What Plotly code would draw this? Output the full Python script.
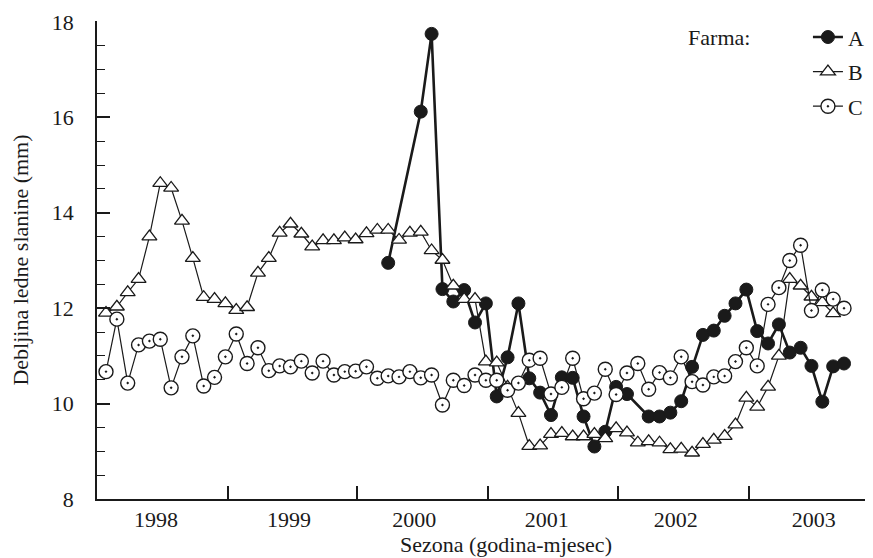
import plotly.graph_objects as go

# ---- data (month index from first season month) ----
months_a = [26, 29, 30, 31, 32, 33, 34, 35, 36, 37, 38, 39, 40, 41, 42, 43, 44, 45, 46, 47, 48,
            50, 51, 52, 53, 54, 55, 56, 57, 58, 59, 60, 61, 62, 63, 64, 65, 66, 67, 68]
farm_a = [12.95, 16.12, 17.75, 12.40, 12.14, 12.38, 11.70, 12.10, 10.15, 10.97, 12.10, 10.53,
          10.23, 9.76, 10.55, 10.54, 9.73, 9.10, 9.41, 10.35, 10.20,
          9.73, 9.73, 9.81, 10.05, 10.77, 11.44, 11.53, 11.84, 12.10, 12.39, 11.52, 11.26,
          11.66, 11.07, 11.17, 10.79, 10.04, 10.78, 10.84]

months_b = list(range(68))
farm_b = [11.90, 12.03, 12.33, 12.61, 13.50, 14.62, 14.52, 13.83, 13.05, 12.23, 12.19, 12.10,
          11.96, 12.02, 12.74, 13.05, 13.58, 13.77, 13.56, 13.29, 13.42, 13.42, 13.48, 13.44,
          13.57, 13.64, 13.64, 13.43, 13.58, 13.60, 13.21, 13.01, 12.47, 12.19, 12.19, 10.88,
          10.86, 10.35, 9.80, 9.11, 9.12, 9.36, 9.38, 9.31, 9.31, 9.36, 9.27, 9.48, 9.39, 9.18,
          9.21, 9.18, 9.04, 9.05, 8.97, 9.15, 9.24, 9.32, 9.56, 10.12, 9.93, 10.35, 11.00,
          12.61, 12.47, 12.24, 12.12, 11.89]

months_c = list(range(69))
farm_c = [10.67, 11.77, 10.43, 11.23, 11.31, 11.35, 10.33, 10.98, 11.42, 10.37, 10.55, 10.98,
          11.46, 10.84, 11.17, 10.69, 10.79, 10.77, 10.89, 10.64, 10.89, 10.60, 10.67, 10.68,
          10.77, 10.53, 10.58, 10.56, 10.67, 10.54, 10.60, 9.97, 10.49, 10.38, 10.60, 10.49,
          10.49, 10.28, 10.43, 10.91, 10.95, 10.20, 10.34, 10.95, 10.10, 10.22, 10.72, 10.19,
          10.64, 10.84, 10.30, 10.65, 10.54, 10.98, 10.46, 10.39, 10.56, 10.58, 10.88, 11.17,
          10.79, 12.08, 12.43, 13.00, 13.32, 11.95, 12.38, 12.19, 12.00]

year_labels = ["1998", "1999", "2000", "2001", "2002", "2003"]
year_label_pos = [4.6, 16.85, 28.4, 40.6, 52.5, 65.2]
year_bounds = [11.2, 23.15, 35.2, 47.2, 59.2]

FONT = "Liberation Serif, Times New Roman, serif"
INK = "#1a1a1a"
NBSP = "\u00a0"

fig = go.Figure()
fig.add_trace(go.Scatter(
    x=months_a, y=farm_a, name="A", mode="lines+markers",
    line=dict(color=INK, width=2.6),
    marker=dict(symbol="circle", size=13, color=INK, line=dict(color=INK, width=1)),
    legendgroup="a"))
fig.add_trace(go.Scatter(
    x=months_b, y=farm_b, name="B", mode="lines+markers",
    line=dict(color=INK, width=1.2),
    marker=dict(symbol="triangle-up", size=13, color="white", line=dict(color=INK, width=1.3)),
    legendgroup="b"))
fig.add_trace(go.Scatter(
    x=months_c, y=farm_c, name="C", mode="lines+markers",
    line=dict(color=INK, width=1.2),
    marker=dict(symbol="circle-dot", size=14, color="white", line=dict(color=INK, width=1.4)),
    legendgroup="c"))

# the page body adds an 8px offset, so the figure is 8px smaller than the window
fig.update_layout(
    width=865, height=550,
    margin=dict(l=89, r=0, t=13, b=59, autoexpand=False),
    paper_bgcolor="white", plot_bgcolor="white",
    font=dict(family=FONT, size=22, color=INK),
    legend=dict(
        x=0.995, y=1.01, xanchor="right", yanchor="top",
        title=dict(text="Farma:" + NBSP * 9, side="left", font=dict(size=22)),
        font=dict(size=22), tracegroupgap=3, bgcolor="rgba(0,0,0,0)",
        itemsizing="trace"),
    annotations=[dict(
        text="Sezona (godina-mjesec)", xref="paper", yref="paper",
        x=0.527, y=-0.096, xanchor="center", yanchor="middle",
        showarrow=False, font=dict(size=22, family=FONT, color=INK))],
)

fig.update_xaxes(
    range=[-0.83, 70.67], showgrid=False, zeroline=False, automargin=False,
    showline=True, linecolor=INK, linewidth=1.5,
    tickmode="array", tickvals=year_label_pos, ticktext=year_labels,
    ticks="", ticklabelstandoff=0,
    minor=dict(tickmode="array", tickvals=year_bounds, ticks="inside",
               ticklen=13, tickwidth=1.5, tickcolor=INK, showgrid=False),
)
fig.update_yaxes(
    range=[8, 18.02], showgrid=False, zeroline=False, automargin=False,
    showline=True, linecolor=INK, linewidth=1.5,
    tickmode="array", tickvals=[8, 10, 12, 14, 16, 18],
    ticks="inside", ticklen=13, tickwidth=1.5, tickcolor=INK,
    ticklabelstandoff=17,
    minor=dict(dtick=0.5, ticks="inside", ticklen=8, tickwidth=1.3, tickcolor=INK, showgrid=False),
    title=dict(text="Debljina ledne slanine (mm)", standoff=17, font=dict(size=22)),
)

fig.write_html("out.html")
